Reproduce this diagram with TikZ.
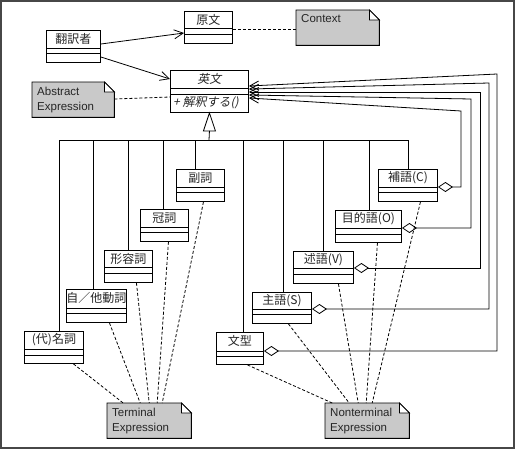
\documentclass[tikz,border=0pt]{standalone}
\usepackage{fontspec}
\usetikzlibrary{arrows.meta,calc}
\newfontfamily\jpf{Noto Sans CJK JP}
\newfontfamily\jpit[FakeSlant=0.2]{Noto Sans CJK JP}
\newfontfamily\latf{Liberation Sans}

\tikzset{
  classbox/.style={draw=black, line width=0.9pt, fill=white, inner sep=0pt, anchor=north west},
  cname/.style={font=\jpf\fontsize{12}{12}\selectfont, text=black!85, inner sep=0pt},
  notebox/.style={inner sep=0pt, anchor=north west},
  notefill/.style={draw=black, line width=0.9pt, fill=black!21},
  notetext/.style={font=\latf\fontsize{11.5}{15}\selectfont, align=left, inner sep=0pt, anchor=north west, text=black!85},
  dashline/.style={line width=0.8pt, dash pattern=on 3pt off 2pt},
  assoc/.style={line width=0.8pt, -{Straight Barb[length=9pt,width=9pt]}},
  agg/.style={line width=0.8pt, {Diamond[open,length=15pt,width=10pt]}-{Straight Barb[length=9pt,width=9pt]}},
  gen/.style={line width=0.8pt},
}

% name, x, y, w, h, text, sep1, sep2
\newcommand\umlclass[8]{%
  \node[classbox, minimum width=#4pt, minimum height=#5pt] (#1) at (#2,#3) {};
  \node[cname] (#1-t) at ([yshift=-9pt]#1.north) {#6};
  \draw[line width=0.9pt] ([yshift=-#7pt]#1.north west) -- ([yshift=-#7pt]#1.north east);
  \draw[line width=0.9pt] ([yshift=-#8pt]#1.north west) -- ([yshift=-#8pt]#1.north east);
}
% name, x, y, w, h, text
\newcommand\umlnote[6]{%
  \node[notebox, minimum width=#4pt, minimum height=#5pt] (#1) at (#2,#3) {};
  \draw[notefill] (#1.north west) -- ([xshift=-10pt]#1.north east) -- ([yshift=-10pt]#1.north east)
     -- (#1.south east) -- (#1.south west) -- cycle;
  \draw[line width=0.8pt, fill=white] ([xshift=-10pt]#1.north east) -- ([xshift=-10pt,yshift=-10pt]#1.north east)
     -- ([yshift=-10pt]#1.north east) -- cycle;
  \node[notetext] (#1-t) at ([xshift=5pt,yshift=-4.5pt]#1.north west) {#6};
}

\begin{document}
\begin{tikzpicture}[x=1pt,y=-1pt]
\useasboundingbox (0,0) rectangle (516,450);
\draw[line width=2pt, black!72] (1,1) rectangle (514,448);

% classes
\umlclass{trans}{46}{30}{54}{32}{翻訳者}{18}{23}
\umlclass{orig}{184}{11}{48}{32}{原文}{17}{23}
\umlclass{eng}{170}{70}{78}{42}{\jpit 英文}{18}{24}
\node[cname, anchor=west] (eng-op) at ([xshift=3pt,yshift=-33pt]eng.north west) {\jpit + 解釈する()};

\umlclass{fuku}{176}{169}{48}{32}{副詞}{18}{23}
\umlclass{kan}{140}{209}{48}{32}{冠詞}{18}{23}
\umlclass{kei}{104}{250}{48}{32}{形容詞}{17}{23}
\umlclass{doushi}{66}{289}{60}{33}{自／他動詞}{19}{24}
\umlclass{meishi}{24}{331}{59}{32}{(代)名詞}{18}{24}

\umlclass{hogo}{378}{169}{59}{32}{補語(C)}{18}{23}
\umlclass{moku}{335}{210}{66}{32}{目的語(O)}{18}{24}
\umlclass{jutsu}{293}{251}{60}{32}{述語(V)}{17}{23}
\umlclass{shugo}{252}{292}{59}{31}{主語(S)}{17}{22}
\umlclass{bunkei}{216}{332}{47}{32}{文型}{19}{24}

% notes
\umlnote{ctx}{296}{10}{83}{35}{Context}
\umlnote{ae}{32}{82}{82}{35}{Abstract\\Expression}
\umlnote{te}{107}{403}{84}{35}{Terminal\\Expression}
\umlnote{ne}{325}{403}{84}{35}{Nonterminal\\Expression}

% associations
\draw[assoc] ([yshift=-14pt]trans.north east) -- ([yshift=-22pt]orig.north west);
\draw[assoc] ([yshift=-27pt]trans.north east) -- ([yshift=-9pt]eng.north west);

% note links
\coordinate (o1) at ([yshift=-18pt]orig.north east);
\draw[dashline] (o1) -- (o1 -| ctx.west);
\draw[dashline] ([yshift=-17pt]ae.north east) -- ([yshift=-27pt]eng.north west);

% generalization
\coordinate (gbase) at ([yshift=-18pt]eng.south);
\coordinate (busc) at (209,140);
\draw[gen, fill=white] (eng.south) -- ++(-6,18) -- ++(12,0) -- cycle;
\draw[gen] (gbase) -- (busc);
\coordinate (b1) at (59,140);
\coordinate (b2) at (93,140);
\coordinate (b3) at (128,140);
\coordinate (b4) at (163,140);
\coordinate (b5) at (195,140);
\coordinate (b6) at (243,140);
\coordinate (b7) at (283,140);
\coordinate (b8) at (323,140);
\coordinate (b9) at (369,140);
\coordinate (b10) at (408,140);
\draw[gen] (b1) -- (b10);
\draw[gen] (b1) -- (b1 |- meishi.north);
\draw[gen] (b2) -- (b2 |- doushi.north);
\draw[gen] (b3) -- (b3 |- kei.north);
\draw[gen] (b4) -- (b4 |- kan.north);
\draw[gen] (b5) -- (b5 |- fuku.north);
\draw[gen] (b6) -- (b6 |- bunkei.north);
\draw[gen] (b7) -- (b7 |- shugo.north);
\draw[gen] (b8) -- (b8 |- jutsu.north);
\draw[gen] (b9) -- (b9 |- moku.north);
\draw[gen] (b10) -- (b10 |- hogo.north);

% aggregations
\coordinate (aC) at (461,111);
\coordinate (aO) at (471,99);
\coordinate (aV) at (480,92);
\coordinate (aS) at (489,83);
\coordinate (aB) at (497,74);
\coordinate (sC) at ([yshift=-18pt]hogo.north east);
\coordinate (sO) at ([yshift=-18pt]moku.north east);
\coordinate (sV) at ([yshift=-17pt]jutsu.north east);
\coordinate (sS) at ([yshift=-17pt]shugo.north east);
\coordinate (sB) at ([yshift=-19pt]bunkei.north east);
\draw[agg] (sC) -- (sC -| aC) -- (aC) -- ([yshift=-28pt]eng.north east);
\draw[agg] (sO) -- (sO -| aO) -- (aO) -- ([yshift=-25pt]eng.north east);
\draw[agg] (sV) -- (sV -| aV) -- (aV) -- ([yshift=-22pt]eng.north east);
\draw[agg] (sS) -- (sS -| aS) -- (aS) -- ([yshift=-19pt]eng.north east);
\draw[agg] (sB) -- (sB -| aB) -- (aB) -- ([yshift=-16pt]eng.north east);

% dashed links to Terminal Expression
\draw[dashline] ([xshift=19.5pt]meishi.south) -- ([xshift=-26pt]te.north);
\draw[dashline] ([xshift=13pt]doushi.south) -- ([xshift=-9pt]te.north);
\draw[dashline] ([xshift=8pt]kei.south) -- (te.north);
\draw[dashline] ([xshift=4pt]kan.south) -- ([xshift=8pt]te.north);
\draw[dashline] ([xshift=3pt]fuku.south) -- ([xshift=13pt]te.north);

% dashed links to Nonterminal Expression
\draw[dashline] ([xshift=7.5pt]bunkei.south) -- ([xshift=-35pt]ne.north);
\draw[dashline] ([xshift=6.5pt]shugo.south) -- ([xshift=-18pt]ne.north);
\draw[dashline] ([xshift=15pt]jutsu.south) -- ([xshift=-9pt]ne.north);
\draw[dashline] ([xshift=9pt]moku.south) -- ([xshift=-1pt]ne.north);
\draw[dashline] ([xshift=12.5pt]hogo.south) -- ([xshift=5pt]ne.north);
\end{tikzpicture}
\end{document}
